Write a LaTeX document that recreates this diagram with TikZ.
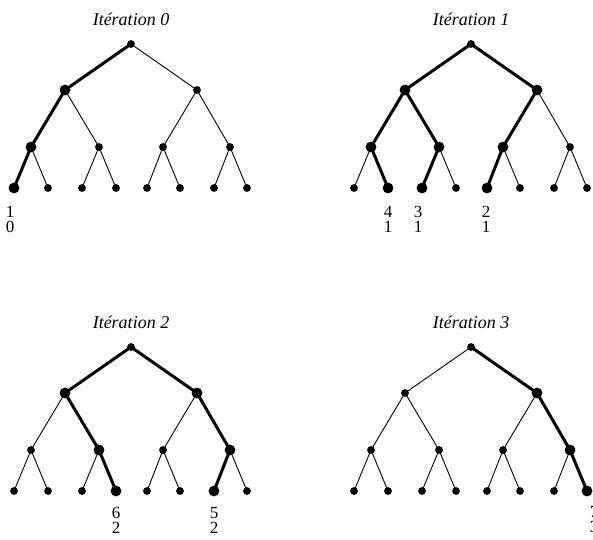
\documentclass[tikz,border=0pt]{standalone}
\usepackage{fontspec}
\setmainfont{Liberation Serif}
\usetikzlibrary{backgrounds}
\tikzset{
  dot/.style={circle,fill=black,inner sep=0pt,minimum size=7.8pt},
  bigdot/.style={circle,fill=black,inner sep=0pt,minimum size=10.8pt},
  thinedge/.style={line width=0.9pt},
  thickedge/.style={line width=3pt},
  ttl/.style={font=\fontsize{18}{20}\selectfont\itshape,inner sep=0pt},
  lab/.style={font=\fontsize{17}{15}\selectfont,inner sep=0pt,align=center},
}
\newcommand\mktree[5]{%
  \node[ttl] (T#1) at (131+#2,19+#3) {Itération #4};
  \foreach \i/\x/\y in {0/131/44,1/65/90,2/197/90,3/31/147,4/99/147,5/163/147,6/230/147,
      7/14/188,8/48/188,9/82/188,10/116/188,11/147/188,12/180/188,13/214/188,14/247/188}
    \node[dot] (#1\i) at (\x+#2,\y+#3) {};
  \begin{pgfonlayer}{background}
    \foreach \c in {1,...,14}{%
      \pgfmathtruncatemacro\pp{(\c-1)/2}%
      \draw[thinedge] (#1\pp.center) -- (#1\c.center);}
    \foreach \c in {#5}{%
      \pgfmathtruncatemacro\pp{(\c-1)/2}%
      \draw[thickedge] (#1\pp.center) -- (#1\c.center);}
  \end{pgfonlayer}
  \foreach \c in {#5}
    \node[bigdot] (#1\c) at (#1\c.center) {};
}
\begin{document}
\begin{tikzpicture}[x=1pt,y=-1pt]
\useasboundingbox (0,0) rectangle (593,539);
\mktree{A}{0}{0}{0}{1,3,7}
\mktree{B}{340}{0}{1}{1,2,3,4,5,8,9,11}
\mktree{C}{0}{303}{2}{1,2,4,6,10,13}
\mktree{D}{340}{303}{3}{2,6,14}
% labels
\node[lab] (LA) at (10,219.5) {1\\0};
\node[lab] (LB1) at (388,219.5) {4\\1};
\node[lab] (LB2) at (418,219.5) {3\\1};
\node[lab] (LB3) at (486,219.5) {2\\1};
\node[lab] (LC1) at (116,520.5) {6\\2};
\node[lab] (LC2) at (214,520.5) {5\\2};
\node[lab] (LD) at (594,519.5) {7\\3};
\end{tikzpicture}
\end{document}
